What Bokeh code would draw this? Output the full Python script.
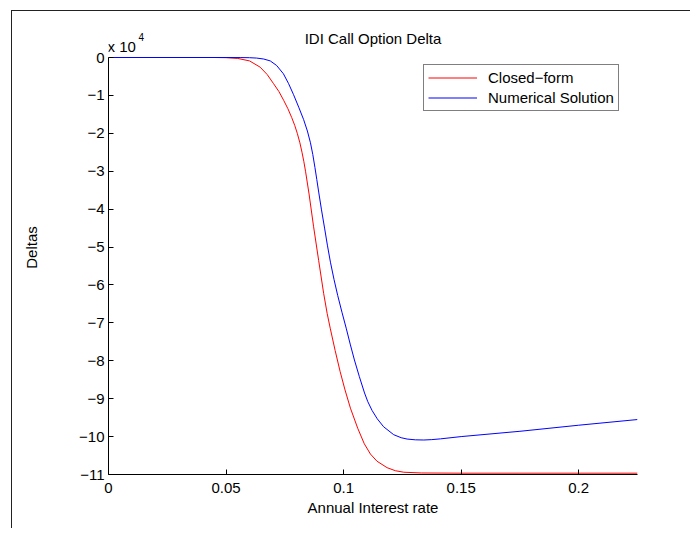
from bokeh.plotting import figure
from bokeh.models import Range1d, FixedTicker, Label, Legend, LegendItem
from bokeh.embed import file_html
from bokeh.resources import INLINE

# Annual interest rate (x) and deltas in units of 1e4 (y)
closed_x = [0.0, 0.045, 0.05, 0.055, 0.06, 0.0645, 0.0675, 0.0702, 0.0725, 0.0745,
            0.0763, 0.0779, 0.0792, 0.0803, 0.0814, 0.0823, 0.0831, 0.0838, 0.0853,
            0.0872, 0.0894, 0.0915, 0.093, 0.0943, 0.0964, 0.0985, 0.1006, 0.1029,
            0.106, 0.1088, 0.1114, 0.1142, 0.1185, 0.122, 0.1256, 0.133, 0.15,
            0.175, 0.2, 0.225]
closed_y = [0.0, 0.0, -0.005, -0.025, -0.09, -0.255, -0.45, -0.69, -0.9, -1.13,
            -1.35, -1.58, -1.79, -2.0, -2.25, -2.5, -2.75, -3.0, -3.6,
            -4.45, -5.36, -6.22, -6.75, -7.14, -7.73, -8.28, -8.77, -9.25,
            -9.78, -10.19, -10.46, -10.65, -10.82, -10.9, -10.94, -10.96, -10.965,
            -10.965, -10.965, -10.965]

numeric_x = [0.0, 0.05, 0.056, 0.06, 0.063, 0.066, 0.0688, 0.0715, 0.0744, 0.0766,
             0.0787, 0.0809, 0.083, 0.0846, 0.0859, 0.0869, 0.0878, 0.0886, 0.0894,
             0.0906, 0.0919, 0.0931, 0.0944, 0.0959, 0.0975, 0.0993, 0.1011, 0.1028,
             0.1046, 0.1067, 0.1089, 0.1103, 0.1121, 0.1143, 0.117, 0.1213, 0.1245,
             0.127, 0.1305, 0.1341, 0.1375, 0.1412, 0.15, 0.175, 0.2, 0.225]
numeric_y = [0.0, 0.0, -0.002, -0.005, -0.015, -0.04, -0.09, -0.21, -0.43, -0.69,
             -0.98, -1.31, -1.64, -1.94, -2.25, -2.56, -2.9, -3.22, -3.55,
             -4.02, -4.5, -4.95, -5.4, -5.85, -6.28, -6.72, -7.14, -7.56,
             -7.98, -8.42, -8.85, -9.08, -9.31, -9.53, -9.74, -9.95, -10.03,
             -10.065, -10.085, -10.09, -10.08, -10.06, -10.0, -9.86, -9.7, -9.55]

x_ticks = [0, 0.05, 0.1, 0.15, 0.2]
x_tick_labels = ["0", "0.05", "0.1", "0.15", "0.2"]
y_ticks = list(range(-11, 1))
y_tick_labels = ["\u2212%d" % (-t) if t < 0 else "0" for t in y_ticks]

FONT = "Liberation Sans"
FS = "15px"

# frame extends above y=0 so that the title and exponent note can sit there
y_top = 37 * 11 / 417.0

p = figure(width=679, height=518, output_backend="svg", toolbar_location=None,
           x_range=Range1d(0, 0.225), y_range=Range1d(-11, y_top),
           min_border_left=96, min_border_top=9, min_border_right=54,
           min_border_bottom=55, title_location=None)
p.styles = {"border-left": "1px solid #222222", "border-top": "1px solid #222222",
            "margin-left": "11px", "margin-top": "10px"}

p.outline_line_color = None
p.grid.visible = False
p.background_fill_color = "white"
p.border_fill_color = "white"

for ax in (p.xaxis[0], p.yaxis[0]):
    ax.axis_line_color = "black"
    ax.major_tick_line_color = "black"
    ax.major_tick_in = 5
    ax.major_tick_out = 0
    ax.minor_tick_line_color = None
    ax.major_label_text_font = FONT
    ax.major_label_text_font_size = FS
    ax.major_label_text_color = "black"
    ax.axis_label_text_font = FONT
    ax.axis_label_text_font_size = FS
    ax.axis_label_text_font_style = "normal"
    ax.axis_label_text_color = "black"

p.xaxis.ticker = FixedTicker(ticks=x_ticks)
p.xaxis.major_label_overrides = dict(zip(x_ticks, x_tick_labels))
p.yaxis.ticker = FixedTicker(ticks=y_ticks)
p.yaxis.major_label_overrides = dict(zip(y_ticks, y_tick_labels))
p.yaxis.bounds = (-11, 0)
p.xaxis.axis_label = "Annual Interest rate"
p.yaxis.axis_label = "Deltas"
p.xaxis.major_label_standoff = 8
p.yaxis.major_label_standoff = 4
p.xaxis.axis_label_standoff = 3
p.yaxis.axis_label_standoff = 36

r1 = p.line(closed_x, closed_y, line_color="#ff0000", line_width=1)
r2 = p.line(numeric_x, numeric_y, line_color="#0000ff", line_width=1)

legend = Legend(items=[LegendItem(label="Closed\u2212form", renderers=[r1]),
                       LegendItem(label="Numerical Solution", renderers=[r2])],
                location=(315, 363))
legend.margin = 0
legend.padding = 4
legend.spacing = 3
legend.label_height = 15
legend.glyph_height = 15
legend.glyph_width = 49
legend.label_standoff = 11
legend.label_text_font = FONT
legend.label_text_font_size = FS
legend.label_text_color = "black"
legend.border_line_color = "black"
legend.border_line_width = 1
legend.background_fill_alpha = 1.0
p.add_layout(legend, "center")

p.add_layout(Label(x=0.1125, y=0, y_offset=19, text="IDI Call Option Delta",
                   text_font=FONT, text_font_size=FS, text_color="black",
                   text_baseline="middle", text_align="center"))
p.add_layout(Label(x=0, y=0, x_offset=-1, y_offset=11, text="x 10",
                   text_font=FONT, text_font_size=FS, text_color="black",
                   text_baseline="middle", text_align="left"))
p.add_layout(Label(x=0, y=0, x_offset=30, y_offset=21, text="4",
                   text_font=FONT, text_font_size="10px", text_color="black",
                   text_baseline="middle", text_align="left"))

open("out.html", "w").write(file_html(p, INLINE))
